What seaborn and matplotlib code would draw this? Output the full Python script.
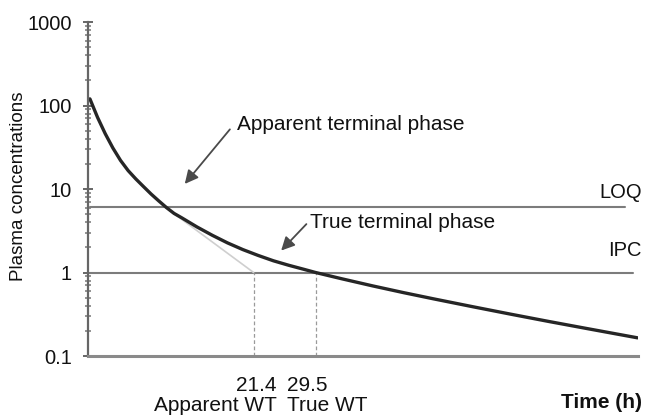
import matplotlib
matplotlib.use("Agg")
import matplotlib.pyplot as plt
import matplotlib.ticker as mticker
import seaborn as sns
import pandas as pd

# Data
time_h = [0, 1, 2, 3, 4, 5, 6, 7, 8, 9, 10, 11, 12, 14, 16, 18, 20, 22, 24,
          26, 28, 29.5, 33, 37, 41, 45, 50, 55, 60, 65, 71.6]
conc = [120, 72, 46, 31, 22, 16.6, 13.2, 10.7, 8.7, 7.2, 6.0, 5.1, 4.52, 3.51,
        2.79, 2.26, 1.88, 1.60, 1.38, 1.22, 1.09, 1.0, 0.838, 0.69, 0.574,
        0.482, 0.39, 0.317, 0.259, 0.213, 0.165]
apparent_x = [9.8, 21.4]
apparent_y = [6.1, 1.0]
loq_value = 6.1
ipc_value = 1.0
line_end_x = [69.9, 71.0]
wt_times = [21.4, 29.5]
wt_numbers = ["21.4", "29.5"]
wt_names = ["Apparent WT", "True WT"]

sns.set_theme(style="white")
plt.rcParams['font.family'] = ['Liberation Sans', 'DejaVu Sans']

W, H = 646, 415
fig = plt.figure(figsize=(W / 100, H / 100), dpi=100)
ax = fig.add_axes([88 / W, 1 - 356 / H, (638 - 88) / W, (356 - 22) / H])

df = pd.DataFrame({"t": time_h, "c": conc})
sns.lineplot(data=df, x="t", y="c", ax=ax, color="#262626", lw=2.4)

ax.set_yscale("log")
ax.set_ylim(0.1, 1000)
ax.set_xlim(-0.25, 71.65)

# Reference lines
ax.plot([0, line_end_x[0]], [loq_value, loq_value], color="#7c7c7c", lw=1.5, zorder=1)
ax.plot([0, line_end_x[1]], [ipc_value, ipc_value], color="#7c7c7c", lw=1.5, zorder=1)
ax.annotate("LOQ", xy=(1.0, loq_value), xycoords=("axes fraction", "data"),
            xytext=(4, 14), textcoords="offset pixels", ha="right", va="center",
            fontsize=14.5, color="#111111")
ax.annotate("IPC", xy=(1.0, ipc_value), xycoords=("axes fraction", "data"),
            xytext=(4, 22), textcoords="offset pixels", ha="right", va="center",
            fontsize=14.5, color="#111111")

# apparent terminal extrapolation
ax.plot(apparent_x, apparent_y, color="#cfcfcf", lw=1.2, zorder=1)

# vertical dashed lines
for t in wt_times:
    ax.plot([t, t], [0.1, ipc_value], color="#9a9a9a", lw=0.9, ls=(0, (3, 2)), zorder=1)

# annotations
ax.text(19.2, 59.4, "Apparent terminal phase", fontsize=15, va="center",
        ha="left", color="#111111")
ax.annotate("", xy=(12.4, 11.5), xytext=(18.3, 51.8),
            arrowprops=dict(arrowstyle="-|>", color="#4a4a4a", lw=1.3,
                            mutation_scale=20, shrinkA=0, shrinkB=0))
ax.text(28.8, 3.94, "True terminal phase", fontsize=15, va="center",
        ha="left", color="#111111")
ax.annotate("", xy=(25.0, 1.83), xytext=(28.3, 3.8),
            arrowprops=dict(arrowstyle="-|>", color="#4a4a4a", lw=1.3,
                            mutation_scale=20, shrinkA=0, shrinkB=0))

# axes styling
for s in ["top", "right"]:
    ax.spines[s].set_visible(False)
ax.spines["left"].set_color("#666666")
ax.spines["left"].set_linewidth(1.6)
ax.spines["bottom"].set_color("#8a8a8a")
ax.spines["bottom"].set_linewidth(2.2)

ax.yaxis.set_major_locator(mticker.LogLocator(base=10))
ax.yaxis.set_major_formatter(mticker.FuncFormatter(lambda v, p: f"{v:g}"))
ax.yaxis.set_minor_locator(mticker.LogLocator(base=10, subs=range(2, 10)))
ax.yaxis.set_minor_formatter(mticker.NullFormatter())
ax.tick_params(axis="y", which="major", direction="inout", length=7, width=1.4,
               color="#666666", labelsize=14.5, labelcolor="#111111", pad=8, left=True)
ax.tick_params(axis="y", which="minor", direction="inout", length=5, width=1.1,
               color="#777777", left=True)

ax.set_xticks([])
for t, num, name, ha, dx in zip(wt_times, wt_numbers, wt_names,
                                ["right", "left"], [23, -29]):
    ax.annotate(num, xy=(t, 0), xycoords=("data", "axes fraction"),
                xytext=(dx, -29), textcoords="offset pixels", ha=ha, va="center",
                fontsize=15, color="#111111")
    ax.annotate(name, xy=(t, 0), xycoords=("data", "axes fraction"),
                xytext=(dx, -49), textcoords="offset pixels", ha=ha, va="center",
                fontsize=15, color="#111111")

ax.set_xlabel("")
ax.set_ylabel("Plasma concentrations", fontsize=13.5, color="#111111")
ax.yaxis.set_label_coords(-0.111, 0.509)

fig.text(642 / W, 1 - 402 / H, "Time (h)", ha="right", va="center", fontsize=15,
         fontweight="bold", color="#111111")

fig.savefig("out.png", dpi=100, facecolor="white")
